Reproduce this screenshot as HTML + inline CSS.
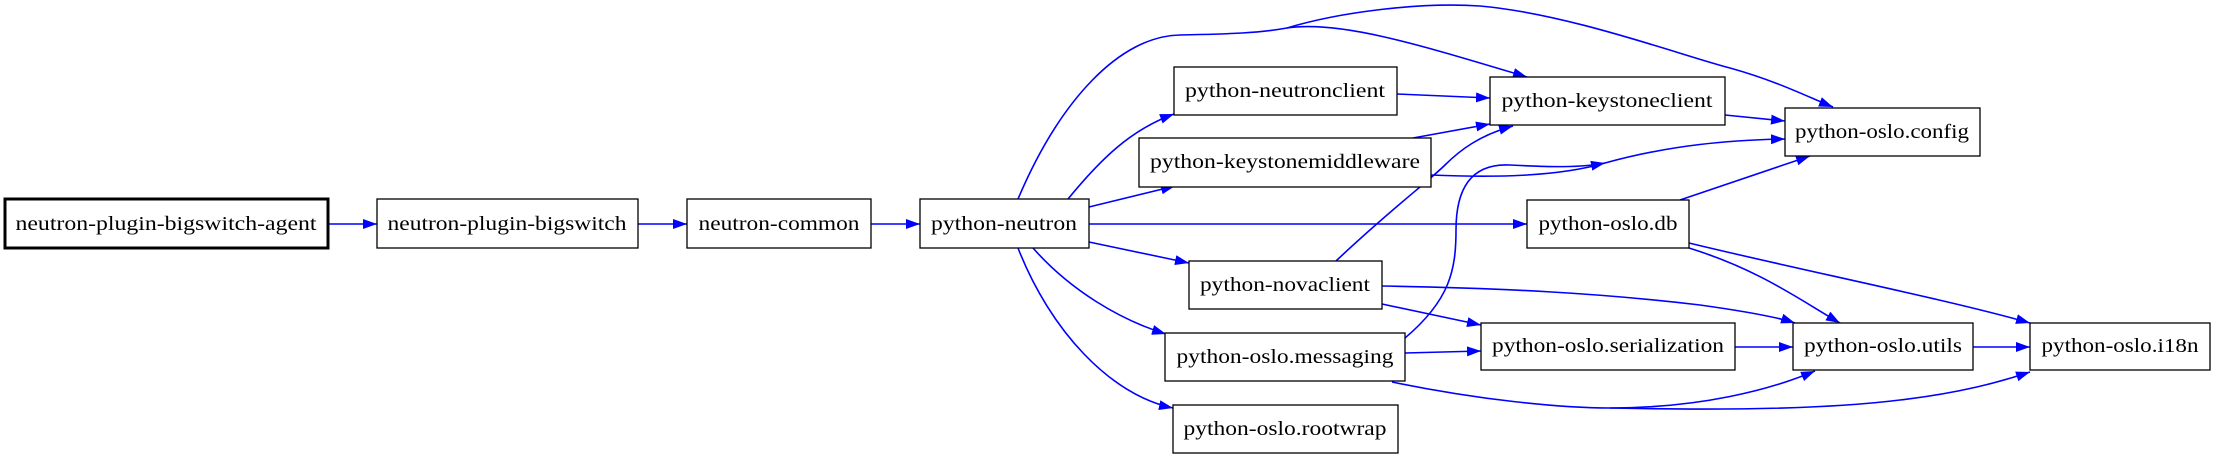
<!DOCTYPE html>
<html><head><meta charset="utf-8"><style>
html,body{margin:0;padding:0;background:#fff;width:2216px;height:459px;overflow:hidden}
text{font-family:"Liberation Serif",serif;font-size:20px;fill:#000}
</style></head><body>
<svg width="2216" height="459" viewBox="0 0 2216 459" xmlns="http://www.w3.org/2000/svg">
<defs>
<marker id="a" viewBox="0 0 14 10" refX="14" refY="5" markerWidth="14" markerHeight="10" markerUnits="userSpaceOnUse" orient="auto">
<path d="M0,0 L14,5 L0,10 z" fill="#0000ff"/></marker>
</defs>
<g fill="none" stroke="#0000ff" stroke-width="1.6" marker-end="url(#a)">
<path d="M328,224 L377,224"/>
<path d="M638,224 L687,224"/>
<path d="M871,224 L920,224"/>
<path d="M1089,224 L1527,224"/>
<path d="M1068,199 C1100,160 1130,130 1174,114"/>
<path d="M1089,207 L1175,186"/>
<path d="M1089,242 L1189,263"/>
<path d="M1033,248 C1070,290 1120,320 1166,334"/>
<path d="M1018,248 C1050,330 1110,395 1173,408"/>
<path d="M1018,199 C1060,100 1120,36 1180,35 C1230,34 1260,33 1287,28 C1340,20 1420,45 1527,77"/>
<path d="M1287,28 C1340,12 1420,2 1480,6 C1570,14 1680,55 1730,68 C1780,82 1810,98 1833,107"/>
<path d="M1397,94 L1490,98"/>
<path d="M1413,138 L1490,124"/>
<path d="M1431,175 C1500,178 1560,176 1605,163 C1670,145 1730,140 1785,139"/>
<path d="M1725,115 L1785,121"/>
<path d="M1336,261 C1390,210 1430,180 1445,165 C1460,150 1480,135 1513,126"/>
<path d="M1405,338 C1450,300 1456,270 1456,230 C1456,190 1470,163 1510,165 C1550,167 1580,168 1605,163"/>
<path d="M1680,200 L1810,156"/>
<path d="M1689,248 C1760,270 1800,300 1840,323"/>
<path d="M1689,243 C1800,270 1950,300 2030,323"/>
<path d="M1382,286 C1500,288 1600,293 1700,305 C1750,312 1780,318 1795,323"/>
<path d="M1382,304 L1481,325"/>
<path d="M1405,353 L1481,351"/>
<path d="M1735,347 L1793,347"/>
<path d="M1973,347 L2030,347"/>
<path d="M1392,382 C1480,400 1560,408 1610,408 C1700,408 1770,390 1815,371"/>
<path d="M1610,408 C1700,410 1820,410 1900,400 C1960,393 2000,382 2030,372"/>
</g>
<g fill="#fff" stroke="#000" stroke-width="1.3">
<rect x="5" y="199" width="323" height="49" stroke-width="3"/>
<rect x="377" y="199" width="261" height="49"/>
<rect x="687" y="199" width="184" height="49"/>
<rect x="920" y="199" width="169" height="49"/>
<rect x="1174" y="67" width="223" height="48"/>
<rect x="1139" y="138" width="292" height="49"/>
<rect x="1490" y="77" width="235" height="48"/>
<rect x="1785" y="108" width="195" height="48"/>
<rect x="1527" y="200" width="162" height="48"/>
<rect x="1189" y="261" width="193" height="48"/>
<rect x="1165" y="333" width="240" height="48"/>
<rect x="1481" y="323" width="254" height="47"/>
<rect x="1793" y="323" width="180" height="47"/>
<rect x="2030" y="323" width="180" height="47"/>
<rect x="1173" y="405" width="225" height="48"/>
</g>
<g text-anchor="middle">
<text x="166" y="230" textLength="301" lengthAdjust="spacingAndGlyphs">neutron-plugin-bigswitch-agent</text>
<text x="507" y="230" textLength="239" lengthAdjust="spacingAndGlyphs">neutron-plugin-bigswitch</text>
<text x="779" y="230" textLength="161" lengthAdjust="spacingAndGlyphs">neutron-common</text>
<text x="1004" y="230" textLength="146" lengthAdjust="spacingAndGlyphs">python-neutron</text>
<text x="1285" y="97" textLength="200" lengthAdjust="spacingAndGlyphs">python-neutronclient</text>
<text x="1285" y="168" textLength="270" lengthAdjust="spacingAndGlyphs">python-keystonemiddleware</text>
<text x="1607" y="107" textLength="211" lengthAdjust="spacingAndGlyphs">python-keystoneclient</text>
<text x="1882" y="138" textLength="174" lengthAdjust="spacingAndGlyphs">python-oslo.config</text>
<text x="1608" y="230" textLength="139" lengthAdjust="spacingAndGlyphs">python-oslo.db</text>
<text x="1285" y="291" textLength="170" lengthAdjust="spacingAndGlyphs">python-novaclient</text>
<text x="1285" y="363" textLength="217" lengthAdjust="spacingAndGlyphs">python-oslo.messaging</text>
<text x="1608" y="352" textLength="232" lengthAdjust="spacingAndGlyphs">python-oslo.serialization</text>
<text x="1883" y="352" textLength="158" lengthAdjust="spacingAndGlyphs">python-oslo.utils</text>
<text x="2120" y="352" textLength="157" lengthAdjust="spacingAndGlyphs">python-oslo.i18n</text>
<text x="1285" y="435" textLength="203" lengthAdjust="spacingAndGlyphs">python-oslo.rootwrap</text>
</g>
</svg>
</body></html>
